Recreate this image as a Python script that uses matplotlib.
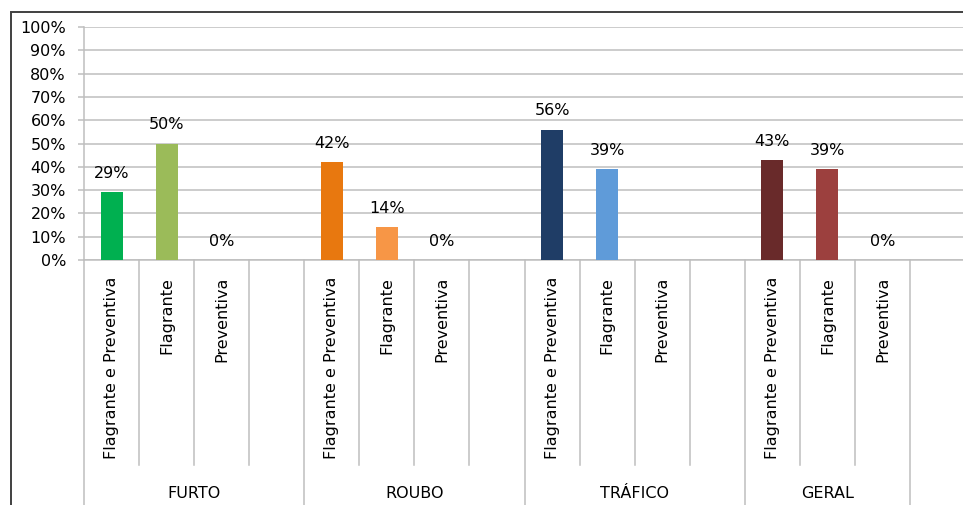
import matplotlib
matplotlib.use("Agg")
import matplotlib.pyplot as plt
from matplotlib.patches import Rectangle

# data
groups = ["FURTO", "ROUBO", "TRÁFICO", "GERAL"]
subcats = ["Flagrante e Preventiva", "Flagrante", "Preventiva"]
furto = [29, 50, 0]
roubo = [42, 14, 0]
trafico = [56, 39, None]
geral = [43, 39, 0]
group_colors = [
    ["#00B050", "#9BBB59", "#9BBB59"],
    ["#E8780F", "#F79646", "#F79646"],
    ["#1F3D66", "#5F9BD9", "#5F9BD9"],
    ["#692A2A", "#9C403E", "#9C403E"],
]
yticks = [0, 10, 20, 30, 40, 50, 60, 70, 80, 90, 100]

W, H = 963, 505
FS = 11.5
fig = plt.figure(figsize=(W / 100, H / 100), dpi=100)

def fx(px):
    return px / W

def fy(py):
    return 1 - py / H

# outer chart frame (cut off at right and bottom in the reference)
fig.patches.append(Rectangle((fx(11), fy(530)), fx(990) - fx(11), fy(12) - fy(530),
                             transform=fig.transFigure, fill=False,
                             edgecolor="#404040", lw=1.4))

# plot area: 0% at y=260, 100% at y=27, category axis starts at x=84
slot_px = 55.07
ax = fig.add_axes([fx(84), fy(260), fx(968) - fx(84), fy(27) - fy(260)])
n_slots = 15
ax.set_xlim(0, (968 - 84) / slot_px)
ax.set_ylim(0, 100)

grid_c = "#BEBEBE"
ax.set_yticks(yticks)
ax.set_yticklabels([f"{t}%" for t in yticks], fontsize=FS)
ax.yaxis.grid(True, color=grid_c, lw=1.1)
ax.set_axisbelow(True)
ax.tick_params(axis="y", length=4, width=1.1, color=grid_c, pad=9)
for s in ["top", "right"]:
    ax.spines[s].set_visible(False)
ax.spines["left"].set_color(grid_c)
ax.spines["bottom"].set_color(grid_c)
ax.spines["left"].set_linewidth(1.1)
ax.spines["bottom"].set_linewidth(1.1)

all_vals = [furto, roubo, trafico, geral]
centers = []
labels = []
for g, (vals, cols) in enumerate(zip(all_vals, group_colors)):
    start = g * 4
    for k, v in enumerate(vals):
        x = start + k + 0.5
        centers.append(x)
        labels.append(subcats[k])
        if v is None:
            continue
        ax.bar(x, v, width=0.4, color=cols[k], zorder=3)
        ax.annotate(f"{v}%", (x, v), xytext=(0, 8), textcoords="offset points",
                    ha="center", va="bottom", fontsize=FS, color="#000000")

ax.set_xticks(centers)
ax.set_xticklabels(labels, rotation=90, fontsize=FS, va="top", ha="center")
ax.tick_params(axis="x", length=0, pad=12)

# separators of the category axis
tr = ax.get_xaxis_transform()
short_y = (260 - 465) / 233
long_y = (260 - 540) / 233
group_edges = [0, 4, 8, 12, 15]
for b in range(1, n_slots):
    if b in group_edges:
        continue
    ax.plot([b, b], [0, short_y], transform=tr, color=grid_c, lw=1.1, clip_on=False)
for b in group_edges:
    ax.plot([b, b], [0, long_y], transform=tr, color=grid_c, lw=1.1, clip_on=False)

# group labels
group_ends = [4, 8, 12, 15]
for g, name in enumerate(groups):
    mid = (group_edges[g] + group_ends[g]) / 2
    ax.text(mid, (260 - 493) / 233, name, transform=tr, ha="center", va="center",
            fontsize=FS, clip_on=False)

fig.savefig("out.png", dpi=100)
